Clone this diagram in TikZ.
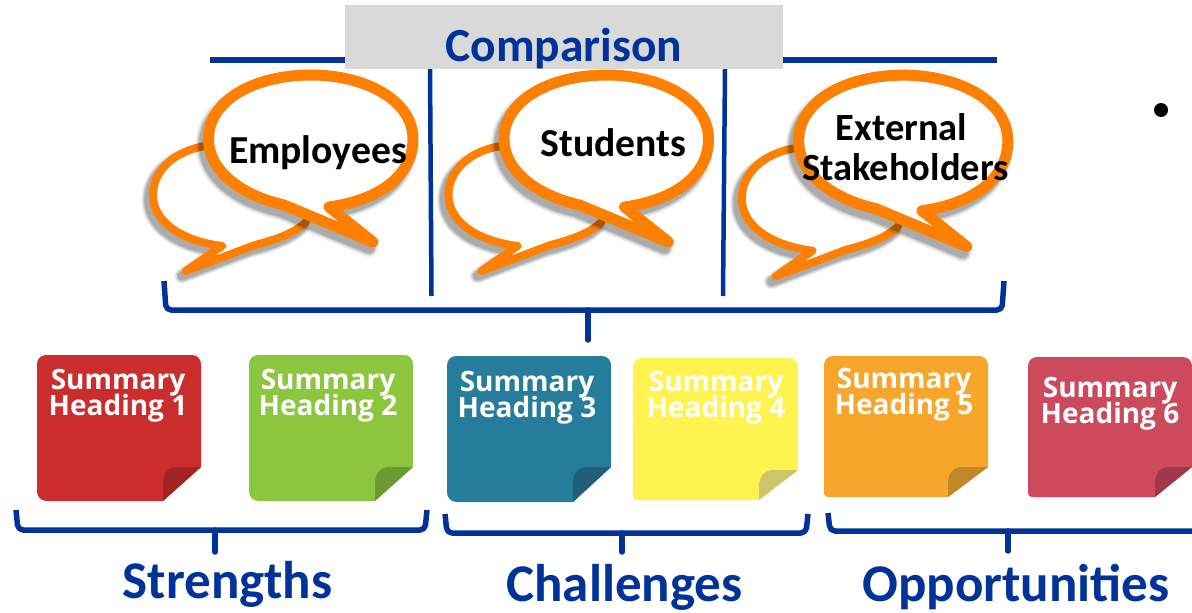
\documentclass[tikz,border=0pt]{standalone}
\usepackage{fontspec}
\setmainfont{Carlito}[BoldFont={Carlito Bold}]
\newfontfamily\stickyfont{Open Sans}[BoldFont={Open Sans Bold}]
\definecolor{brandblue}{HTML}{003399}
\definecolor{bubbleorange}{HTML}{FF8000}
\definecolor{boxgray}{HTML}{D9D9D9}
\definecolor{noteA}{HTML}{CB2C2C}\definecolor{foldA}{HTML}{A32222}
\definecolor{noteB}{HTML}{8CC63F}\definecolor{foldB}{HTML}{6A9A30}
\definecolor{noteC}{HTML}{267C9B}\definecolor{foldC}{HTML}{1F5F78}
\definecolor{noteD}{HTML}{FFF44F}\definecolor{foldD}{HTML}{CCC66A}
\definecolor{noteE}{HTML}{F8A52C}\definecolor{foldE}{HTML}{C08828}
\definecolor{noteF}{HTML}{CC4A5C}\definecolor{foldF}{HTML}{A0384A}
\newcommand{\notetextfont}{\stickyfont\bfseries\fontsize{28}{26}\selectfont\setlength{\lineskiplimit}{-20pt}}
\tikzset{
  rule/.style={draw=brandblue,line width=4.5pt,line cap=butt},
  bracket/.style={draw=brandblue,line width=5.5pt,rounded corners=5pt,line join=round},
  stem/.style={draw=brandblue,line width=5.5pt,line cap=round},
  heading/.style={text=brandblue,font=\bfseries\fontsize{53}{56}\selectfont,anchor=base,inner sep=0pt},
  titletext/.style={text=brandblue,font=\bfseries\fontsize{47.5}{50}\selectfont,anchor=base,inner sep=0pt},
  speaker/.style={text=black,font=\bfseries\fontsize{39.7}{42}\selectfont,anchor=base,inner sep=0pt},
  speakerb/.style={text=black,font=\bfseries\fontsize{38.5}{42}\selectfont,anchor=base,inner sep=0pt},
  stickytext/.style={text=white,font=\notetextfont,anchor=base,inner sep=0pt,align=center},
  backline/.style={draw=bubbleorange,line width=8pt,line join=round,line cap=round},
  frontline/.style={draw=bubbleorange,line width=11pt,line join=round,line cap=round},
}
\def\backpath{(205,146) .. controls (175,151) and (153,170) .. (153,195) .. controls (153,222) and (182,241) .. (222,246) -- (186,271) -- (255,245) .. controls (275,240) and (295,233) .. (306,222)}
\def\frontpath{(329,207) .. controls (380,200) and (413,175) .. (413,139) .. controls (413,100) and (365,75) .. (311,75) .. controls (255,75) and (208.5,100) .. (208.5,139) .. controls (208.5,170) and (240,195) .. (284,205) -- (373,242) -- cycle}
\newcommand{\speechbubble}[3]{%
  \begin{scope}[shift={(#1+203,69)},xscale=#2,yscale=#3,shift={(-203,-69)}]
    \foreach \wd/\op in {15/.07,13/.08,11/.1,9/.12}{
      \draw[draw=black,opacity=\op,line width=\wd pt,line join=round,line cap=round,shift={(-4,5)}] \backpath;}
    \fill[white] \backpath -- cycle;
    \draw[backline] \backpath;
    \foreach \wd/\op in {18/.07,15/.08,13/.1,11/.12}{
      \draw[draw=black,opacity=\op,line width=\wd pt,line join=round,shift={(-4,6)}] \frontpath;}
    \fill[white] \frontpath;
    \draw[frontline] \frontpath;
  \end{scope}}
% x, y, width, height, fold inset x, fold height, bottom radius, fill, fold colour
\newcommand{\stickynote}[9]{%
  \begin{scope}[shift={(#1,#2)}]
    \fill[#8] (9,0) -- (#3-9,0) .. controls (#3-4,0) and (#3,4) .. (#3,9) -- (#3,#4-#6) -- (#3-#5,#4)
      -- (#7,#4) .. controls (#7*.4,#4) and (0,#4-#7*.4) .. (0,#4-#7) -- (0,9) .. controls (0,4) and (4,0) .. (9,0) -- cycle;
    \fill[#9] (#3,#4-#6) -- (#3-#5+14,#4-#6) .. controls (#3-#5+5,#4-#6) and (#3-#5,#4-#6+7) .. (#3-#5,#4-#6+16) -- (#3-#5,#4) -- cycle;
  \end{scope}}
\begin{document}
\begin{tikzpicture}[x=1pt,y=-1pt]
\useasboundingbox (0,0) rectangle (1192,613);
\fill[white] (0,0) rectangle (1192,613);
% comparison rule and dividers
\coordinate (ruleL) at (210,60);
\coordinate (ruleR) at (997,60);
\coordinate (divAtop) at (430,69);
\coordinate (divAbot) at (431.5,296);
\coordinate (divBtop) at (725,69);
\coordinate (divBbot) at (723,296);
\draw[draw=brandblue,line width=6pt] (ruleL) -- (ruleR);
\draw[rule] (divAtop) -- (divAbot);
\draw[rule] (divBtop) -- (divBbot);
\node[fill=boxgray,minimum width=438pt,minimum height=64pt,inner sep=0pt,anchor=north west] (titlebox) at (345,5) {};
\node[titletext] (comparison) at (564,61) {Comparison};
% bubbles
\speechbubble{0}{1}{1}
\speechbubble{295.5}{1}{1}
\speechbubble{590}{1.023}{1.027}
\node[speaker] (employees) at (318,163) {Employees};
\node[speaker] (students) at (613.5,156) {Students};
\node[speakerb] (external) at (901.5,140) {External};
\node[speakerb] (stakeholders) at (905.5,180) {Stakeholders};
\node[circle,fill=black,minimum size=14pt,inner sep=0pt] (bullet) at (1161,110) {};
% upper bracket
\coordinate (topL) at (164,281);
\coordinate (topR) at (1004,281);
\coordinate (topM) at (588,310);
\coordinate (topS) at (588,340);
\draw[bracket] (topL) -- (166,310) -- (topM) -- (1002,310) -- (topR);
\draw[stem] (topM) -- (topS);
% notes
\stickynote{37}{355}{164}{146}{38}{34}{10}{noteA}{foldA}
\stickynote{249}{355}{164}{146}{38}{34}{10}{noteB}{foldB}
\stickynote{447}{356}{164}{146}{38}{35}{10}{noteC}{foldC}
\stickynote{633}{358}{165}{142}{39}{30}{4}{noteD}{foldD}
\stickynote{824}{356}{164}{141}{40}{30}{4}{noteE}{foldE}
\stickynote{1028}{357}{164}{140}{37}{30}{4}{noteF}{foldF}
\node[stickytext] (s1) at (118,415) {Summary\\Heading 1};
\node[stickytext] (s2) at (328,415) {Summary\\Heading 2};
\node[stickytext] (s3) at (527,417) {Summary\\Heading 3};
\node[stickytext] (s4) at (716,417) {Summary\\Heading 4};
\node[stickytext] (s5) at (904,414) {Summary\\Heading 5};
\node[stickytext] (s6) at (1110,423) {Summary\\Heading 6};
% lower brackets
\coordinate (aL) at (16,510);
\coordinate (aR) at (427,510);
\coordinate (aM) at (215,530);
\coordinate (aS) at (215,552);
\draw[bracket] (aL) -- (18,530) -- (aM) -- (425,530) -- (aR);
\draw[stem] (aM) -- (aS);
\coordinate (bL) at (445,514);
\coordinate (bR) at (808,514);
\coordinate (bM) at (622,533);
\coordinate (bS) at (622,552);
\draw[bracket] (bL) -- (447,533) -- (bM) -- (806,533) -- (bR);
\draw[stem] (bM) -- (bS);
\coordinate (cL) at (828,513);
\coordinate (cR) at (1192,531);
\coordinate (cM) at (1008,531);
\coordinate (cS) at (1008,551);
\draw[bracket] (cL) -- (830,531) -- (cM) -- (cR);
\draw[stem] (cM) -- (cS);
\node[heading] (strengths) at (227.5,598) {Strengths};
\node[heading] (challenges) at (624.5,601) {Challenges};
\node[heading] (opportunities) at (1016,601) {Opportunities};
\end{tikzpicture}
\end{document}
